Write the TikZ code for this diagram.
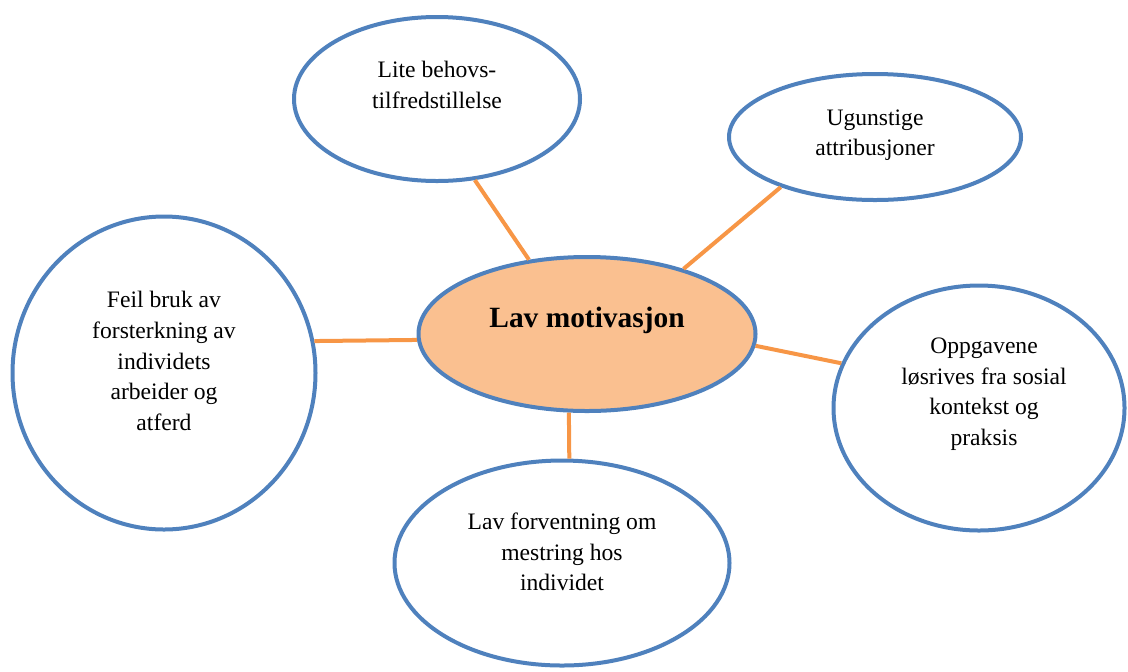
\documentclass[tikz,border=0pt]{standalone}
\usepackage{fontspec}
\setmainfont{Liberation Serif}
\usetikzlibrary{shapes}
\definecolor{bubbleblue}{HTML}{4F81BD}
\definecolor{spokeorange}{HTML}{F79646}
\definecolor{corefill}{HTML}{FAC090}
\tikzstyle{bubble}=[ellipse,draw=bubbleblue,line width=2pt,fill=white,inner sep=0pt]
\tikzstyle{core bubble} = [bubble, fill=corefill]
\tikzstyle{bubble text}=[align=center,inner sep=0pt,font=\fontsize{11.8}{15.3}\selectfont]
\tikzstyle{core text}=[align=center,inner sep=0pt,font=\fontsize{14.7}{17}\selectfont\bfseries]
\tikzstyle{spoke} = [draw=spokeorange,line width=2pt]

\begin{document}
\begin{tikzpicture}[x=0.5pt,y=-0.5pt]
    \useasboundingbox (0,0) rectangle (1128,671);
    % First we draw the bubbles
    \node[core bubble,minimum width=168.5pt,minimum height=77pt] (mot) at (587,334) {};
    \node[bubble,minimum width=143pt,minimum height=82pt] (behov) at (437,99) {};
    \node[bubble,minimum width=146pt,minimum height=63pt] (attr) at (875,137) {};
    \node[bubble,minimum width=151.5pt,minimum height=156.5pt] (feil) at (164,373) {};
    \node[bubble,minimum width=145.5pt,minimum height=122.5pt] (oppg) at (979,408) {};
    \node[bubble,minimum width=167.5pt,minimum height=102.5pt] (forv) at (562,563) {};

    % Then the texts, set a little above the middle
    \node[core text] (motT) at ([yshift=7pt]mot) {Lav motivasjon};
    \node[bubble text] (behovT) at ([yshift=7pt]behov) {Lite behovs-\\tilfredstillelse};
    \node[bubble text] (attrT) at ([yshift=1pt]attr) {Ugunstige\\attribusjoner};
    \node[bubble text] (feilT) at ([yshift=6pt]feil) {Feil bruk av\\forsterkning av\\individets\\arbeider og\\atferd};
    \node[bubble text] (oppgT) at ([xshift=2.5pt,yshift=7pt]oppg) {Oppgavene\\løsrives fra sosial\\kontekst og\\praksis};
    \node[bubble text] (forvT) at ([yshift=5.5pt]forv) {Lav forventning om\\mestring hos\\individet};

    % Connect the bubbles to the core
    \foreach \source/ \dest in {behov.-65/mot.128, attr.208/mot.34, feil.12/mot.182, oppg.162/mot.-4, mot.-103/forv.86}
        \path[spoke] (\source) -- (\dest) ;

\end{tikzpicture}
\end{document}
